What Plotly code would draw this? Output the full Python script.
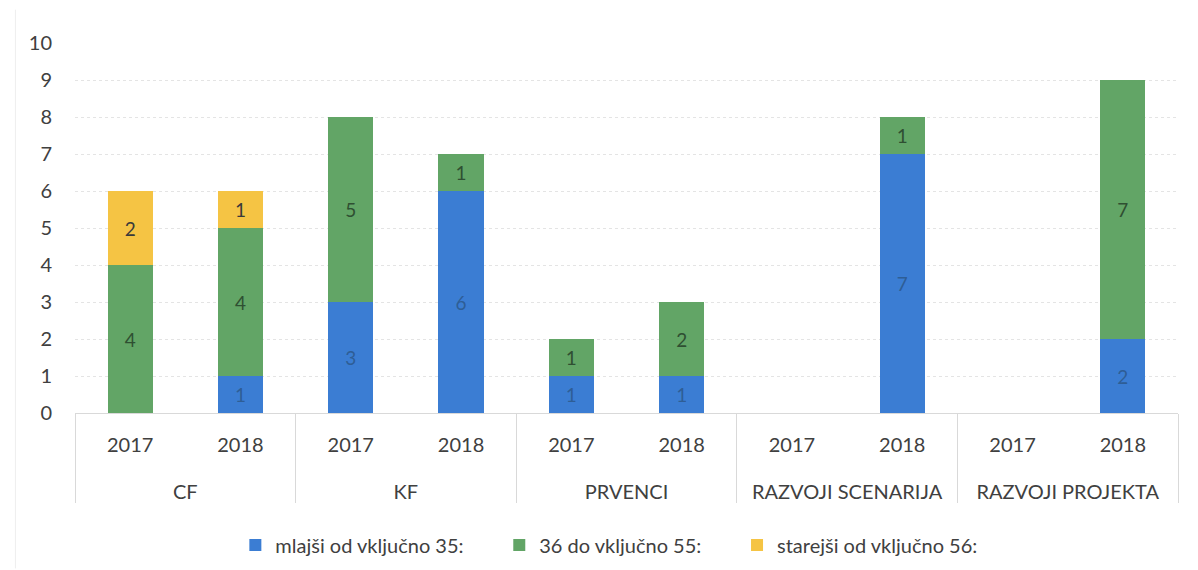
import plotly.graph_objects as go

groups = ["CF", "CF", "KF", "KF", "PRVENCI", "PRVENCI",
          "RAZVOJI SCENARIJA", "RAZVOJI SCENARIJA", "RAZVOJI PROJEKTA", "RAZVOJI PROJEKTA"]
years = ["2017", "2018"] * 5

young = [0, 1, 3, 6, 1, 1, 0, 7, 0, 2]
middle = [4, 4, 5, 1, 1, 2, 0, 1, 0, 7]
old = [2, 1, 0, 0, 0, 0, 0, 0, 0, 0]

NB = "\u00a0"
series = [
    ("mlajši od vključno 35:" + NB * 6, young, "#3B7DD3", "#2E5E96"),
    ("36 do vključno 55:" + NB * 6, middle, "#62A566", "#2F4F32"),
    ("starejši od vključno 56:", old, "#F5C444", "#3A3A3A"),
]

FONT = "Lato, 'Open Sans', sans-serif"

def lab(s):
    return "<span style='font-size:20px'>" + s + "</span>"

# year labels carry an extra empty line so the group level sits lower
year_labels = [lab(y) + "<br>" + NB for y in years]
group_labels = [lab(g) for g in groups]

fig = go.Figure()
for name, vals, col, tcol in series:
    fig.add_trace(go.Bar(
        name=name,
        x=[group_labels, year_labels],
        y=vals,
        marker=dict(color=col, line=dict(width=0)),
        text=[str(v) if v else "" for v in vals],
        textposition="inside",
        insidetextanchor="middle",
        textfont=dict(color=tcol, size=19, family=FONT),
        hoverinfo="skip",
    ))

fig.update_layout(
    barmode="stack",
    bargap=0.59,
    width=1190, height=562,
    paper_bgcolor="white", plot_bgcolor="white",
    margin=dict(l=67, r=20, t=35, b=157, autoexpand=False),
    font=dict(family=FONT, color="#404040", size=20),
    showlegend=True,
    legend=dict(orientation="h", x=0.484, xanchor="center", y=-0.357, yanchor="middle",
                font=dict(size=20, color="#404040"),
                traceorder="normal", itemwidth=30),
    uniformtext=dict(minsize=10, mode="show"),
)
fig.update_yaxes(range=[0, 10], dtick=1, showgrid=True, gridcolor="#E4E4E4",
                 gridwidth=1, griddash="dot", zeroline=False, showline=False,
                 ticks="", ticklabelstandoff=22, tickfont=dict(size=20, color="#404040"))
fig.update_xaxes(type="multicategory", showline=True, linecolor="#D9D9D9",
                 showdividers=True, dividercolor="#D9D9D9", dividerwidth=1,
                 ticks="", ticklabelstandoff=10,
                 tickfont=dict(size=23, color="#404040"))
fig.add_shape(type="line", xref="paper", yref="paper", x0=-0.054, x1=-0.054, y0=1.09, y1=-0.42,
              line=dict(color="#EEEEEE", width=1))

fig.write_html("out.html")
